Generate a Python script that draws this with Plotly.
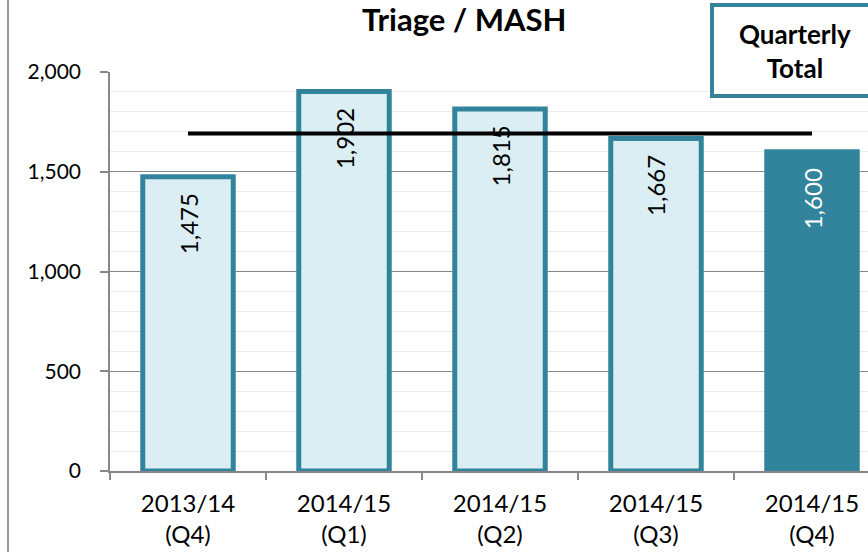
import plotly.graph_objects as go

categories = ["2013/14<br>(Q4)", "2014/15<br>(Q1)", "2014/15<br>(Q2)", "2014/15<br>(Q3)", "2014/15<br>(Q4)"]
values = [1475, 1902, 1815, 1667, 1600]
y_ticks = [0, 500, 1000, 1500, 2000]
y_tick_labels = ["0", "500", "1,000", "1,500", "2,000"]
title_text = "Triage / MASH"
box_text = "Quarterly<br>Total"

TEAL = "#31849B"
LIGHT = "#DAEEF3"
FONT = "Lato, 'Noto Sans', sans-serif"

avg = sum(values) / len(values)

fill_colors = [LIGHT] * (len(values) - 1) + [TEAL]
text_colors = ["black"] * (len(values) - 1) + ["white"]

W, H = 868, 552
L, R, T, B = 110, 0, 72, 81
plot_w = W - L - R
plot_h = H - T - B
cat_px = 156.0

def px_to_paper_x(px):
    return (px - L) / plot_w

def px_to_paper_y(py):
    return (H - B - py) / plot_h

fig = go.Figure()
fig.add_trace(go.Bar(
    x=categories, y=values, width=0.58,
    marker=dict(color=fill_colors, line=dict(color=TEAL, width=5)),
    hoverinfo="skip", showlegend=False,
))

# value labels inside the top of each bar
for c, v, tc in zip(categories, values, text_colors):
    fig.add_annotation(x=c, y=v, xref="x", yref="y", text=f"{v:,}", showarrow=False,
                       textangle=-90, xanchor="center", yanchor="top", yshift=-15,
                       font=dict(size=24, family=FONT, color=tc))

fig.add_trace(go.Scatter(
    x=[categories[0], categories[-1]], y=[avg, avg], mode="lines",
    line=dict(color="black", width=4), hoverinfo="skip", showlegend=False,
))

fig.update_layout(
    width=W, height=H, margin=dict(l=L, r=R, t=T, b=B, pad=0),
    paper_bgcolor="white", plot_bgcolor="white",
    font=dict(family=FONT, size=20, color="black"),
    xaxis=dict(
        type="category", range=[-0.5, -0.5 + plot_w / cat_px],
        showline=True, linecolor="#888888", linewidth=1.5,
        ticks="outside", tickson="boundaries", ticklen=7, tickcolor="#888888", tickwidth=1.5,
        tickfont=dict(size=24, family=FONT), showgrid=False, ticklabelstandoff=10,
    ),
    yaxis=dict(
        range=[0, 2000], tickvals=y_ticks, ticktext=y_tick_labels,
        showline=True, linecolor="#888888", linewidth=1.5,
        ticks="outside", ticklen=8, tickcolor="#888888", tickwidth=1.5,
        showgrid=True, gridcolor="#888888", gridwidth=1.2,
        minor=dict(dtick=100, showgrid=True, gridcolor="#EBEBEB", gridwidth=1, ticks=""),
        tickfont=dict(size=21, family=FONT), ticklabelstandoff=15, zeroline=False,
    ),
)

# outer frame line on the left
fig.add_shape(type="line", xref="paper", yref="paper",
              x0=px_to_paper_x(8), x1=px_to_paper_x(8),
              y0=px_to_paper_y(0), y1=px_to_paper_y(H),
              line=dict(color="#999999", width=2))

# Quarterly total box
fig.add_shape(type="rect", xref="paper", yref="paper",
              x0=px_to_paper_x(712), x1=px_to_paper_x(880),
              y0=px_to_paper_y(96), y1=px_to_paper_y(5),
              line=dict(color=TEAL, width=4), fillcolor="white", layer="above")
fig.add_annotation(xref="paper", yref="paper", x=px_to_paper_x(795), y=px_to_paper_y(51),
                   xanchor="center", yanchor="middle",
                   text="<b>" + box_text + "</b>", showarrow=False,
                   font=dict(size=26, family=FONT, color="black"), align="center")

# Title
fig.add_annotation(xref="paper", yref="paper", x=px_to_paper_x(464), y=px_to_paper_y(19),
                   xanchor="center", yanchor="middle",
                   text="<b>" + title_text + "</b>", showarrow=False,
                   font=dict(size=31, family=FONT, color="black"))

fig.write_html("out.html", config={"displayModeBar": False},
               post_script="document.body.style.margin='0';document.body.style.padding='0';document.body.style.overflow='hidden';")
